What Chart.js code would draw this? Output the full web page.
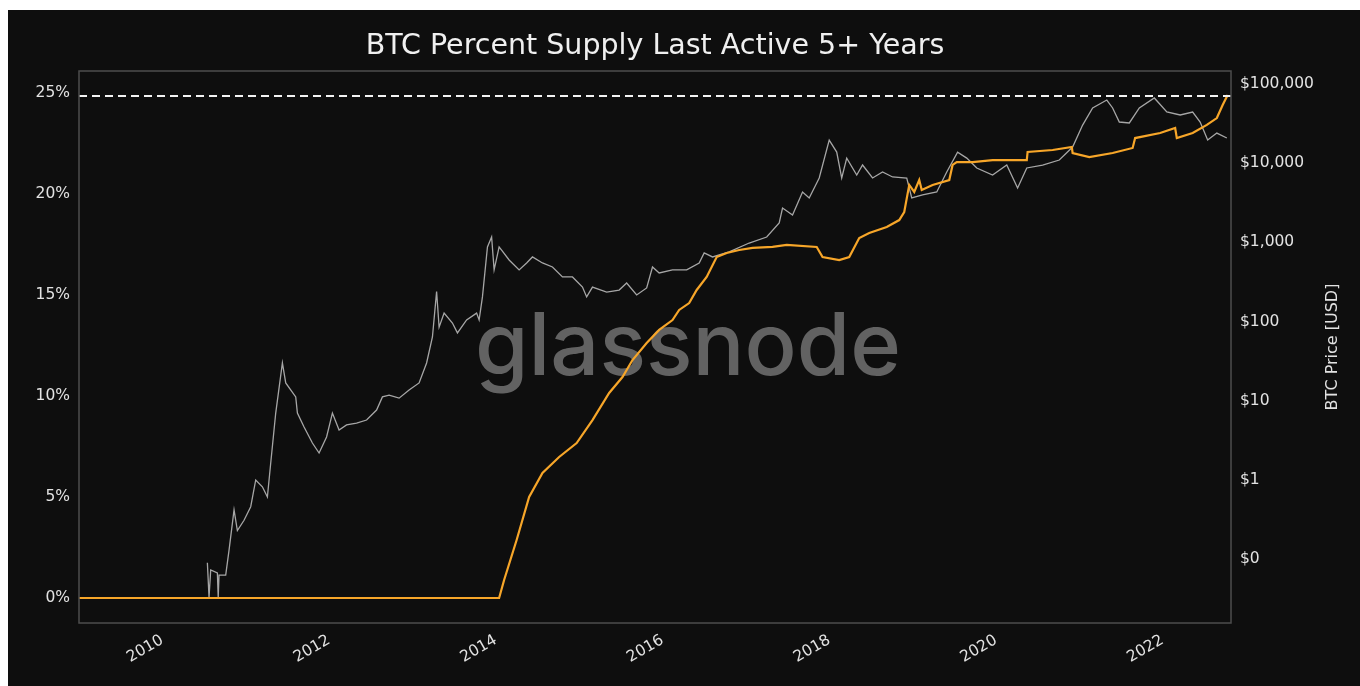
<!DOCTYPE html>
<html>
<head>
<meta charset="utf-8">
<script src="https://cdn.jsdelivr.net/npm/chart.js@4.4.1/dist/chart.umd.min.js"></script>
<style>
  html, body { margin: 0; padding: 0; background: #ffffff; }
  #wrap { position: absolute; left: 8px; top: 10px; width: 1352px; height: 676px; background: #0e0e0e; }
  canvas { display: block; }
</style>
</head>
<body>
<div id="wrap"><canvas id="chart" width="1352" height="676"></canvas></div>
<script>
// ===== data =====
const supplyYears = [
  2009.0, 2014.04, 2014.10, 2014.25, 2014.40, 2014.56, 2014.76, 2014.97, 2015.16, 2015.36,
  2015.52, 2015.64, 2015.81, 2015.96, 2016.12, 2016.20, 2016.32, 2016.41, 2016.53, 2016.65,
  2016.77, 2016.92, 2017.08, 2017.32, 2017.49, 2017.85, 2017.92, 2018.12, 2018.24, 2018.36,
  2018.48, 2018.69, 2018.84, 2018.90, 2018.96, 2019.02, 2019.08, 2019.11, 2019.24, 2019.44,
  2019.48, 2019.53, 2019.72, 2019.96, 2020.37, 2020.38, 2020.68, 2020.91, 2020.92, 2021.12,
  2021.40, 2021.64, 2021.67, 2021.97, 2022.15, 2022.17, 2022.36, 2022.53, 2022.65, 2022.72,
  2022.78,
];
const supplyPct = [
  0, 0, 0.89, 2.87, 5.0, 6.19, 6.98, 7.67, 8.81, 10.15,
  10.94, 11.78, 12.62, 13.27, 13.76, 14.26, 14.6, 15.25, 15.89, 16.88,
  17.08, 17.23, 17.33, 17.38, 17.48, 17.38, 16.88, 16.73, 16.88, 17.82,
  18.07, 18.37, 18.71, 19.11, 20.45, 20.1, 20.69, 20.2, 20.45, 20.69,
  21.44, 21.58, 21.58, 21.68, 21.68, 22.08, 22.18, 22.33, 22.03, 21.83,
  22.03, 22.28, 22.77, 23.02, 23.27, 22.77, 23.02, 23.42, 23.76, 24.41,
  24.9,
];

const priceYears = [
  2010.54, 2010.56, 2010.58, 2010.66, 2010.67, 2010.68, 2010.76, 2010.80, 2010.86, 2010.90,
  2010.98, 2011.06, 2011.12, 2011.20, 2011.26, 2011.30, 2011.36, 2011.44, 2011.48, 2011.60,
  2011.62, 2011.70, 2011.80, 2011.88, 2011.97, 2012.04, 2012.12, 2012.21, 2012.33, 2012.45,
  2012.57, 2012.64, 2012.72, 2012.84, 2012.96, 2013.08, 2013.17, 2013.24, 2013.29, 2013.32,
  2013.38, 2013.48, 2013.54, 2013.65, 2013.77, 2013.80, 2013.84, 2013.90, 2013.95, 2013.98,
  2014.04, 2014.07, 2014.16, 2014.28, 2014.37, 2014.44, 2014.56, 2014.68, 2014.80, 2014.92,
  2015.04, 2015.09, 2015.16, 2015.33, 2015.48, 2015.57, 2015.69, 2015.81, 2015.88, 2015.96,
  2016.12, 2016.29, 2016.44, 2016.50, 2016.60, 2016.80, 2017.04, 2017.25, 2017.40, 2017.44,
  2017.56, 2017.68, 2017.76, 2017.88, 2018.00, 2018.09, 2018.15, 2018.21, 2018.33, 2018.40,
  2018.52, 2018.64, 2018.76, 2018.93, 2018.99, 2019.12, 2019.29, 2019.41, 2019.54, 2019.65,
  2019.77, 2019.96, 2020.13, 2020.26, 2020.37, 2020.56, 2020.76, 2020.92, 2021.04, 2021.16,
  2021.33, 2021.40, 2021.48, 2021.60, 2021.72, 2021.90, 2022.05, 2022.21, 2022.36, 2022.45,
  2022.54, 2022.65, 2022.77,
];
const priceUsd = [
  0.090, 0.033, 0.073, 0.067, 0.033, 0.063, 0.063, 0.13, 0.42, 0.23,
  0.31, 0.46, 1.0, 0.82, 0.61, 1.64, 7.0, 30, 16.8, 11.2,
  7.0, 4.67, 2.93, 2.19, 3.49, 7.0, 4.28, 4.95, 5.24, 5.72,
  7.65, 11.2, 11.8, 10.8, 13.7, 16.8, 30, 64, 240, 85,
  128, 96, 72, 105, 128, 105, 205, 875, 1170, 450,
  875, 800, 600, 449, 550, 655, 550, 489, 366, 366,
  273, 205, 273, 236, 250, 307, 217, 266, 489, 411,
  449, 449, 550, 735, 655, 757, 982, 1170, 1757, 2717,
  2218, 4327, 3640, 6500, 19600, 13800, 6500, 11600, 7100, 9480,
  6500, 7740, 6700, 6500, 3640, 3970, 4327, 7740, 13800, 11600,
  8700, 7100, 9480, 4860, 8700, 9480, 10960, 16000, 30300, 49800,
  62800, 49800, 33100, 32200, 49800, 66600, 44300, 40600, 44300, 33100,
  19600, 24000, 20800,
];

const athLevel = 24.85;   // dashed reference line
const yearTicks = [2010, 2012, 2014, 2016, 2018, 2020, 2022];
const pctTicks = [0, 5, 10, 15, 20, 25];
const priceTicks = [0.1, 1, 10, 100, 1000, 10000, 100000];
const priceTickLabels = ["$0", "$1", "$10", "$100", "$1,000", "$10,000", "$100,000"];

// ===== chart =====
const X_MIN = 2009.0, X_MAX = 2022.82;
const FONT = "'DejaVu Sans', sans-serif";
const TICK_COLOR = "#e2e2e2";

const framePlugin = {
  id: "frame",
  afterDatasetsDraw(chart) {
    const { ctx, chartArea: a } = chart;
    ctx.save();
    ctx.strokeStyle = "#4d4d4d";
    ctx.lineWidth = 1.5;
    ctx.strokeRect(a.left, a.top, a.right - a.left, a.bottom - a.top);
    ctx.restore();
  },
};

const watermarkPlugin = {
  id: "watermark",
  beforeDatasetsDraw(chart) {
    const { ctx } = chart;
    ctx.save();
    ctx.font = "500 100px Inter, 'Noto Sans', sans-serif";
    const w = ctx.measureText("glassnode").width;
    const size = 100 * 426 / w;
    ctx.font = `500 ${size}px Inter, 'Noto Sans', sans-serif`;
    ctx.fillStyle = "#626262";
    ctx.textAlign = "center";
    ctx.textBaseline = "alphabetic";
    ctx.fillText("glassnode", 680, 365);
    ctx.restore();
  },
};

const rightTitlePlugin = {
  id: "rightTitle",
  afterDraw(chart) {
    const { ctx } = chart;
    ctx.save();
    ctx.translate(1325, 337);
    ctx.rotate(-Math.PI / 2);
    ctx.font = `16px ${FONT}`;
    ctx.fillStyle = TICK_COLOR;
    ctx.textAlign = "center";
    ctx.textBaseline = "middle";
    ctx.fillText("BTC Price [USD]", 0, 0);
    ctx.restore();
  },
};

new Chart(document.getElementById("chart"), {
  type: "line",
  data: {
    datasets: [
      {
        label: "ATH",
        data: [{ x: X_MIN, y: athLevel }, { x: X_MAX, y: athLevel }],
        yAxisID: "y",
        borderColor: "#f2f2f2",
        borderWidth: 2,
        borderDash: [8, 5],
        order: 0,
      },
      {
        label: "Percent Supply Last Active 5+ Years",
        data: supplyYears.map((x, i) => ({ x, y: supplyPct[i] })),
        yAxisID: "y",
        borderColor: "#f7a629",
        borderWidth: 2.2,
        order: 1,
      },
      {
        label: "BTC Price",
        data: priceYears.map((x, i) => ({ x, y: priceUsd[i] })),
        yAxisID: "price",
        borderColor: "rgba(175,175,175,0.95)",
        borderWidth: 1.3,
        order: 2,
      },
    ],
  },
  options: {
    responsive: false,
    animation: false,
    events: [],
    elements: { point: { radius: 0 }, line: { tension: 0 } },
    layout: { padding: 0 },
    plugins: {
      legend: { display: false },
      tooltip: { enabled: false },
      title: {
        display: true,
        fullSize: false,
        text: "BTC Percent Supply Last Active 5+ Years",
        color: "#f0f0f0",
        font: { family: FONT, size: 28.5, weight: "normal", lineHeight: 1.2 },
        padding: { top: 19, bottom: 7.8 },
      },
    },
    scales: {
      x: {
        type: "linear",
        min: X_MIN,
        max: X_MAX,
        grid: { display: false, drawTicks: false },
        border: { display: false },
        afterBuildTicks: (s) => { s.ticks = yearTicks.map(v => ({ value: v })); },
        afterFit: (s) => { s.height = 63; },
        ticks: {
          autoSkip: false,
          minRotation: 30,
          maxRotation: 30,
          padding: 8,
          color: TICK_COLOR,
          font: { family: FONT, size: 15.5 },
          callback: (v) => String(v),
        },
      },
      y: {
        position: "left",
        min: -1.238,
        max: 26.09,
        grid: { display: false, drawTicks: false },
        border: { display: false },
        afterBuildTicks: (s) => { s.ticks = pctTicks.map(v => ({ value: v })); },
        afterFit: (s) => { s.width = 71; },
        ticks: {
          padding: 9,
          color: TICK_COLOR,
          font: { family: FONT, size: 15.5 },
          callback: (v) => v + "%",
        },
      },
      price: {
        type: "logarithmic",
        position: "right",
        min: 0.01564,
        max: 145900,
        grid: { display: false, drawTicks: false },
        border: { display: false },
        afterBuildTicks: (s) => { s.ticks = priceTicks.map(v => ({ value: v })); },
        afterFit: (s) => { s.width = 129; },
        ticks: {
          autoSkip: false,
          padding: 9,
          color: TICK_COLOR,
          font: { family: FONT, size: 15.5 },
          callback: (v, i) => priceTickLabels[i],
        },
      },
    },
  },
  plugins: [watermarkPlugin, framePlugin, rightTitlePlugin],
});
</script>
</body>
</html>
